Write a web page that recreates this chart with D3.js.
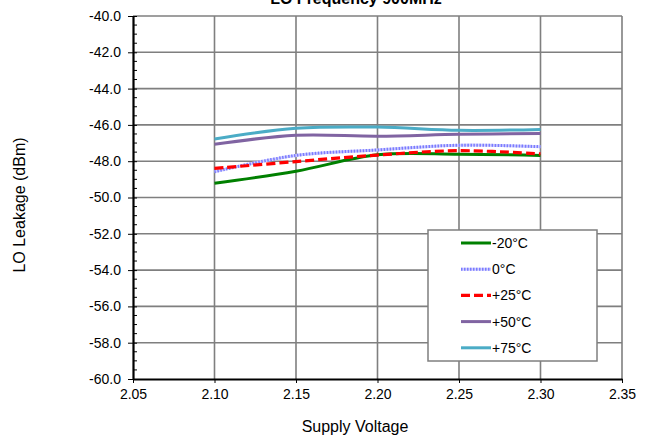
<!DOCTYPE html>
<html><head><meta charset="utf-8">
<script src="https://cdn.jsdelivr.net/npm/d3@7"></script>
<style>body{margin:0;background:#fff}svg{display:block}text{font-family:"Liberation Sans",Arial,sans-serif;fill:#000}</style>
</head><body><svg id="c" width="651" height="436"></svg>
<script>
const voltages = [2.10, 2.15, 2.20, 2.25, 2.30];
const seriesNames = ["-20°C", "0°C", "+25°C", "+50°C", "+75°C"];
const m20 = [-49.22, -48.55, -47.65, -47.62, -47.68];
const t0 = [-48.58, -47.68, -47.38, -47.12, -47.2];
const p25 = [-48.4, -48.02, -47.66, -47.42, -47.6];
const p50 = [-47.07, -46.57, -46.62, -46.52, -46.47];
const p75 = [-46.78, -46.19, -46.12, -46.3, -46.25];
const xTicks = [2.05, 2.10, 2.15, 2.20, 2.25, 2.30, 2.35];
const yTicks = [-60, -58, -56, -54, -52, -50, -48, -46, -44, -42, -40];
const title = "LO Frequency 900MHz";
const xTitle = "Supply Voltage";
const yTitle = "LO Leakage (dBm)";

const values = [m20, t0, p25, p50, p75];
const styles = [
  {stroke:"#008000", w:3, dash:null},
  {stroke:"#7b7bff", w:3, dash:"1.5,1.5"},
  {stroke:"#ff0000", w:3.2, dash:"9,4"},
  {stroke:"#8064a2", w:3, dash:null},
  {stroke:"#4bacc6", w:3, dash:null}
];

const L=133, R=622, T=16, B=379;
const svg = d3.select("#c");
const x = d3.scaleLinear().domain([2.05,2.35]).range([L,R]);
const y = d3.scaleLinear().domain([-60,-40]).range([B,T]);
const fmtY = v => d3.format(".1f")(v).replace("\u2212","-");

// grid
const g = svg.append("g");
g.selectAll("line.h").data(yTicks.filter(d=>d>-60)).join("line")
  .attr("x1",L).attr("x2",R).attr("y1",d=>y(d)).attr("y2",d=>y(d))
  .attr("stroke","#7f7f7f").attr("stroke-width",1.6);
g.selectAll("line.v").data(xTicks.filter(d=>d>2.05)).join("line")
  .attr("y1",T).attr("y2",B).attr("x1",d=>x(d)).attr("x2",d=>x(d))
  .attr("stroke","#7f7f7f").attr("stroke-width",1.6);

// minor y ticks
const minor = d3.range(-60,-40,0.5).filter(v=>Math.abs(v%2)>0.01);
svg.selectAll("line.mn").data(minor).join("line")
  .attr("x1",L).attr("x2",L+4).attr("y1",d=>y(d)).attr("y2",d=>y(d))
  .attr("stroke","#000").attr("stroke-width",1);

// axes
const ya = svg.append("g").attr("transform",`translate(${L},0)`)
  .call(d3.axisLeft(y).tickValues(yTicks).tickFormat(fmtY).tickSizeInner(5).tickSizeOuter(0).tickPadding(7));
ya.select(".domain").attr("stroke-width",2.2);
ya.selectAll(".tick line").attr("x2",-5).attr("x1",4);
ya.selectAll("text").style("font-size","14px").attr("fill","#000");

const xa = svg.append("g").attr("transform",`translate(0,${B})`)
  .call(d3.axisBottom(x).tickValues(xTicks).tickFormat(d3.format(".2f")).tickSizeInner(4).tickSizeOuter(0).tickPadding(6));
xa.select(".domain").attr("stroke-width",2.2);
xa.selectAll("text").style("font-size","14px").attr("fill","#000");

// lines
const line = d3.line().x((d,i)=>x(voltages[i])).y(d=>y(d)).curve(d3.curveCatmullRom.alpha(0.5));
values.forEach((vals,k)=>{
  const s=styles[k];
  if(k===1){
    svg.append("path").attr("d",line(vals)).attr("fill","none")
      .attr("stroke","#d0d0ff").attr("stroke-width",3);
  }
  svg.append("path").attr("d",line(vals)).attr("fill","none")
    .attr("stroke",s.stroke).attr("stroke-width",s.w)
    .attr("stroke-dasharray",s.dash);
});

// legend
const lg = svg.append("g");
lg.append("rect").attr("x",428).attr("y",230).attr("width",169).attr("height",131)
  .attr("fill","#fff").attr("stroke","#7f7f7f").attr("stroke-width",1.5);
seriesNames.forEach((n,k)=>{
  const yy = 243 + k*26.2;
  const s=styles[k];
  if(k===1) lg.append("line").attr("x1",461).attr("x2",491).attr("y1",yy).attr("y2",yy).attr("stroke","#d0d0ff").attr("stroke-width",3);
  lg.append("line").attr("x1",461).attr("x2",491).attr("y1",yy).attr("y2",yy)
    .attr("stroke",s.stroke).attr("stroke-width",s.w).attr("stroke-dasharray",s.dash);
  lg.append("text").attr("x",492).attr("y",yy+5).style("font-size","14px").text(n);
});

// titles
svg.append("text").attr("x",356).attr("y",4).attr("text-anchor","middle")
  .style("font-size","16px").style("font-weight","bold").text(title);
svg.append("text").attr("x",355).attr("y",432).attr("text-anchor","middle")
  .style("font-size","16px").text(xTitle);
svg.append("text").attr("transform","translate(25,205) rotate(-90)").attr("text-anchor","middle")
  .style("font-size","16px").text(yTitle);
</script></body></html>
